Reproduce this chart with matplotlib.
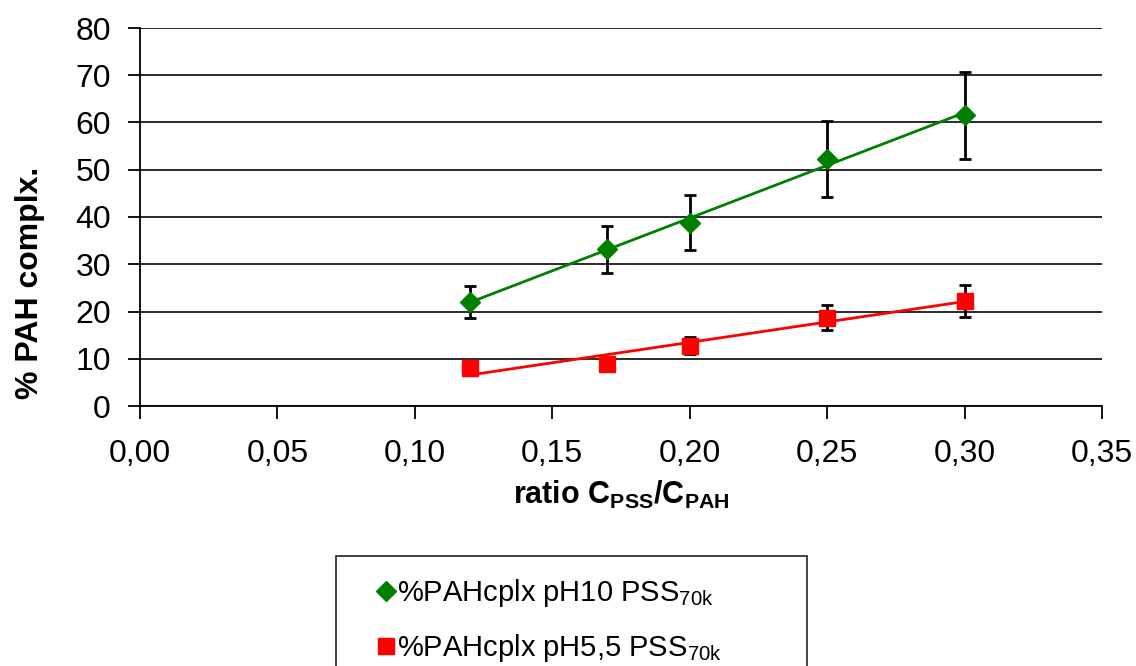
import matplotlib
matplotlib.use("Agg")
import matplotlib.pyplot as plt
from matplotlib.ticker import FuncFormatter
import numpy as np

plt.rcParams['font.family'] = ['Liberation Sans', 'DejaVu Sans']
plt.rcParams['mathtext.fontset'] = 'custom'
plt.rcParams['mathtext.rm'] = 'Liberation Sans'
plt.rcParams['mathtext.bf'] = 'Liberation Sans:bold'

# ratio C_PSS / C_PAH
ratio = [0.12, 0.17, 0.20, 0.25, 0.30]

# % PAH complexed, pH 10
ph10_values = [22.0, 33.2, 38.8, 52.3, 61.5]
ph10_errors = [3.3, 5.0, 5.8, 8.0, 9.2]

# % PAH complexed, pH 5.5
ph55_values = [8.1, 8.9, 12.8, 18.7, 22.3]
ph55_errors = [1.2, 1.0, 1.9, 2.7, 3.4]

labels = [r'%PAHcplx pH10 PSS$_\mathrm{70k}$',
          r'%PAHcplx pH5,5 PSS$_\mathrm{70k}$']

x_ticks = [0.00, 0.05, 0.10, 0.15, 0.20, 0.25, 0.30, 0.35]
y_ticks = [0, 10, 20, 30, 40, 50, 60, 70, 80]

fig = plt.figure(figsize=(11.36, 6.66), dpi=100)
ax = fig.add_axes([140/1136, 1 - 406/666, (1102-140)/1136, (406-28)/666])

series = [(ph10_values, ph10_errors, '#008000', 'D', 10, labels[0]),
          (ph55_values, ph55_errors, '#ff0000', 's', 11.5, labels[1])]

handles = []
for values, errors, color, marker, msize, label in series:
    # linear trendline over the measured range
    slope, intercept = np.polyfit(ratio, values, 1)
    xs = np.array([min(ratio), max(ratio)])
    ax.plot(xs, slope*xs + intercept, color=color, lw=2, zorder=3)

    ax.errorbar(ratio, values, yerr=errors, fmt='none', ecolor='black',
                elinewidth=2, capsize=4.5, capthick=2, zorder=4)
    h, = ax.plot(ratio, values, linestyle='none', marker=marker,
                 markersize=msize, color=color, label=label, zorder=5)
    handles.append(h)

ax.set_xlim(0, 0.35)
ax.set_ylim(0, 80)
ax.set_xticks(x_ticks)
ax.set_yticks(y_ticks)
ax.xaxis.set_major_formatter(FuncFormatter(lambda v, p: ('%.2f' % v).replace('.', ',')))

ax.grid(axis='y', color='#1a1a1a', lw=1.3)
ax.set_axisbelow(True)
for side in ['top', 'right']:
    ax.spines[side].set_visible(False)
for side in ['left', 'bottom']:
    ax.spines[side].set_linewidth(1.3)

ax.tick_params(axis='both', direction='out', length=9, width=1.3, labelsize=23)
ax.tick_params(axis='x', pad=15)
ax.tick_params(axis='y', pad=12)

ax.set_xlabel(r'ratio C$_\mathbf{PSS}$/C$_\mathbf{PAH}$', fontsize=22,
              fontweight='bold', labelpad=7)
ax.set_ylabel('% PAH complx.', fontsize=23, fontweight='bold')
ax.yaxis.set_label_coords(-0.099, 0.325)

leg = fig.legend(handles=handles, loc='upper left',
                 bbox_to_anchor=(336/1136, 1 - 563/666, (807-336)/1136, 0.01),
                 mode='expand', fontsize=21, frameon=True, fancybox=False,
                 edgecolor='black', handlelength=2.0, handletextpad=-0.6,
                 labelspacing=0.8, borderpad=0.7, borderaxespad=0)
leg.get_frame().set_linewidth(1.3)

fig.savefig('out.png', dpi=100)
